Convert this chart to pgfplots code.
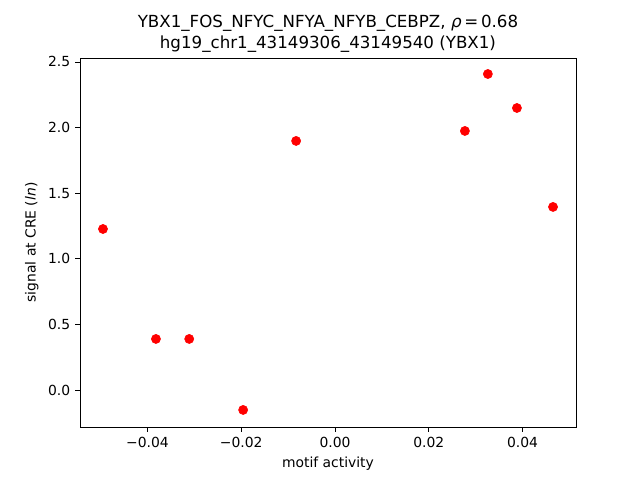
\documentclass[border=0pt]{standalone}
\usepackage{pgfplots}
\pgfplotsset{compat=1.18}
\usepackage{fontspec}
\setmainfont{DejaVu Sans}
\begin{document}
\begin{tikzpicture}
\begin{axis}[
  at={(0,0)}, anchor=south west,
  scale only axis,
  width=357.12pt, height=265.68pt,
  xmin=-0.0544, xmax=0.0514,
  ymin=-0.282, ymax=2.53,
  scaled x ticks=false, scaled y ticks=false,
  axis line style={line width=0.6pt},
  tick align=outside,
  major tick length=3.5pt,
  every tick/.style={black, line width=0.6pt},
  xtick={-0.04,-0.02,0,0.02,0.04},
  xticklabels={−0.04,−0.02,0.00,0.02,0.04},
  ytick={0,0.5,1,1.5,2,2.5},
  yticklabels={0.0,0.5,1.0,1.5,2.0,2.5},
  xtick pos=bottom, ytick pos=left,
  ticklabel style={font=\fontsize{10}{12}\selectfont},
  label style={font=\fontsize{10}{12}\selectfont},
  xlabel={motif activity},
  ylabel={signal at CRE (\textit{ln})},
  title style={align=center, font=\fontsize{12}{15}\selectfont, yshift=-5.5pt},
  title={YBX1\_FOS\_NFYC\_NFYA\_NFYB\_CEBPZ, \textit{ρ}\,=\,0.68\\hg19\_chr1\_43149306\_43149540 (YBX1)},
]
\addplot[only marks, mark=*, mark size=3.3pt, draw=red, fill=red, mark options={line width=0.4pt}] coordinates {
(-0.0495,1.227)
(-0.0382,0.389)
(-0.0311,0.389)
(-0.0196,-0.152)
(-0.0083,1.898)
(0.0277,1.974)
(0.0326,2.408)
(0.0388,2.149)
(0.0465,1.395)
};
\end{axis}
\path (-57.6pt,-38.16pt) rectangle (403.2pt,307.44pt);
\end{tikzpicture}
\end{document}
